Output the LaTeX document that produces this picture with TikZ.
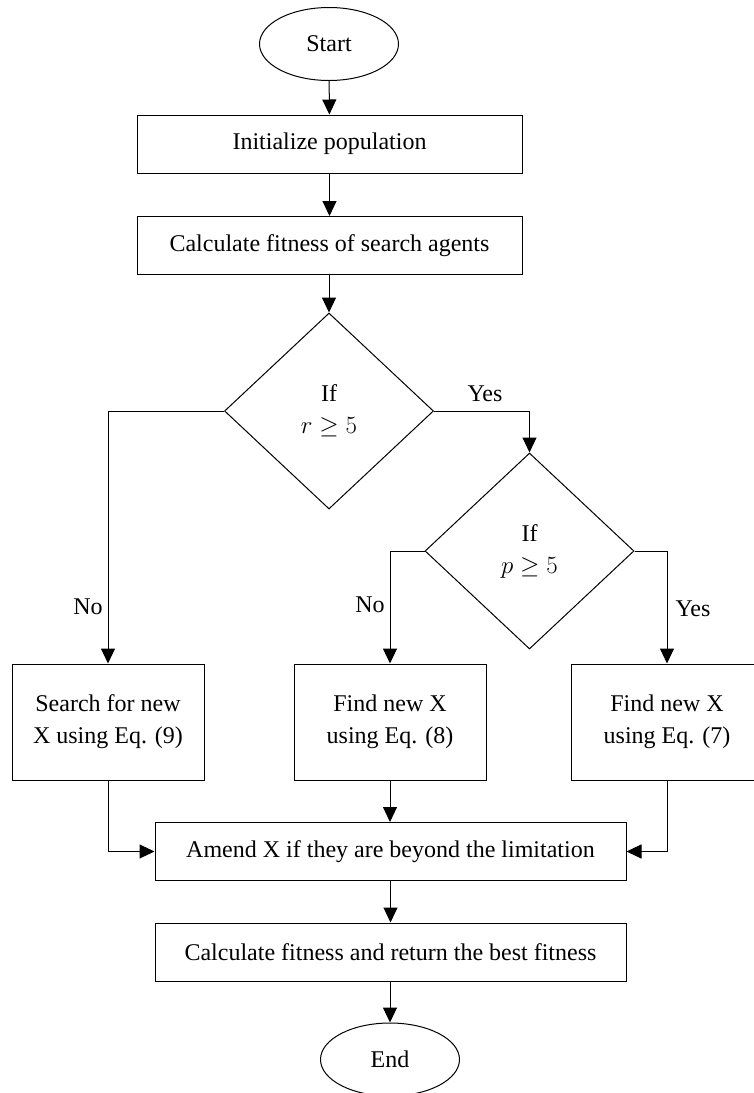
\documentclass[tikz,border=0pt]{standalone}
\usepackage{fontspec}
\setmainfont{Liberation Serif}
\usetikzlibrary{shapes.geometric,arrows.meta}
\begin{document}
\begin{tikzpicture}[x=1pt, y=-1pt, line width=1pt,
  every node/.style={font=\fontsize{24}{32}\selectfont, inner sep=0pt},
  term/.style={ellipse, draw, minimum width=139pt, minimum height=73pt},
  proc/.style={rectangle, draw, align=center, minimum height=58pt},
  cond/.style={diamond, draw, align=center, minimum width=209pt, minimum height=196pt},
  arr/.style={-{Triangle[length=15pt,width=14pt]}}]
\useasboundingbox (0,0) rectangle (753,1093);
\node[term] (start) at (329,44) {Start};
\node[proc, minimum width=385pt] (init) at (329.5,144) {Initialize population};
\node[proc, minimum width=385pt] (fit) at (329.5,245.5) {Calculate fitness of search agents};
\node[cond] (ifr) at (329,411) {If\\$r\geq 5$};
\node[cond] (ifp) at (529.5,551) {If\\$p\geq 5$};
\node[proc, minimum width=192pt, minimum height=116pt] (eqnine) at (108,722) {Search for new\\X using Eq. (9)};
\node[proc, minimum width=192pt, minimum height=116pt] (eqeight) at (390,722) {Find new X\\using Eq. (8)};
\node[proc, minimum width=192pt, minimum height=116pt] (eqseven) at (667,722) {Find new X\\using Eq. (7)};
\node[proc, minimum width=471pt] (amend) at (390.5,851.5) {Amend X if they are beyond the limitation};
\node[proc, minimum width=471pt] (best) at (390.5,952) {Calculate fitness and return the best fitness};
\node[term] (stop) at (390,1059.5) {End};
\node (yesr) at (485,394) {Yes};
\node (nor) at (88,607) {No};
\node (nop) at (370,605) {No};
\node (yesp) at (693,609) {Yes};
\draw[arr] (start) -- (init);
\draw[arr] (init) -- (fit);
\draw[arr] (fit.south -| ifr.north) -- (ifr.north);
\draw[arr] (ifr.east) -| (ifp.north);
\draw[arr] (ifr.west) -| (eqnine.north);
\draw[arr] (ifp.west) -| (eqeight.north);
\draw[arr] (ifp.east) -| (eqseven.north);
\draw[arr] (eqnine.south) |- (amend.west);
\draw[arr] (eqseven.south) |- (amend.east);
\draw[arr] (eqeight.south) -- (eqeight.south |- amend.north);
\draw[arr] (amend.south -| best.north) -- (best.north);
\draw[arr] (best.south -| stop.north) -- (stop.north);
\end{tikzpicture}
\end{document}
